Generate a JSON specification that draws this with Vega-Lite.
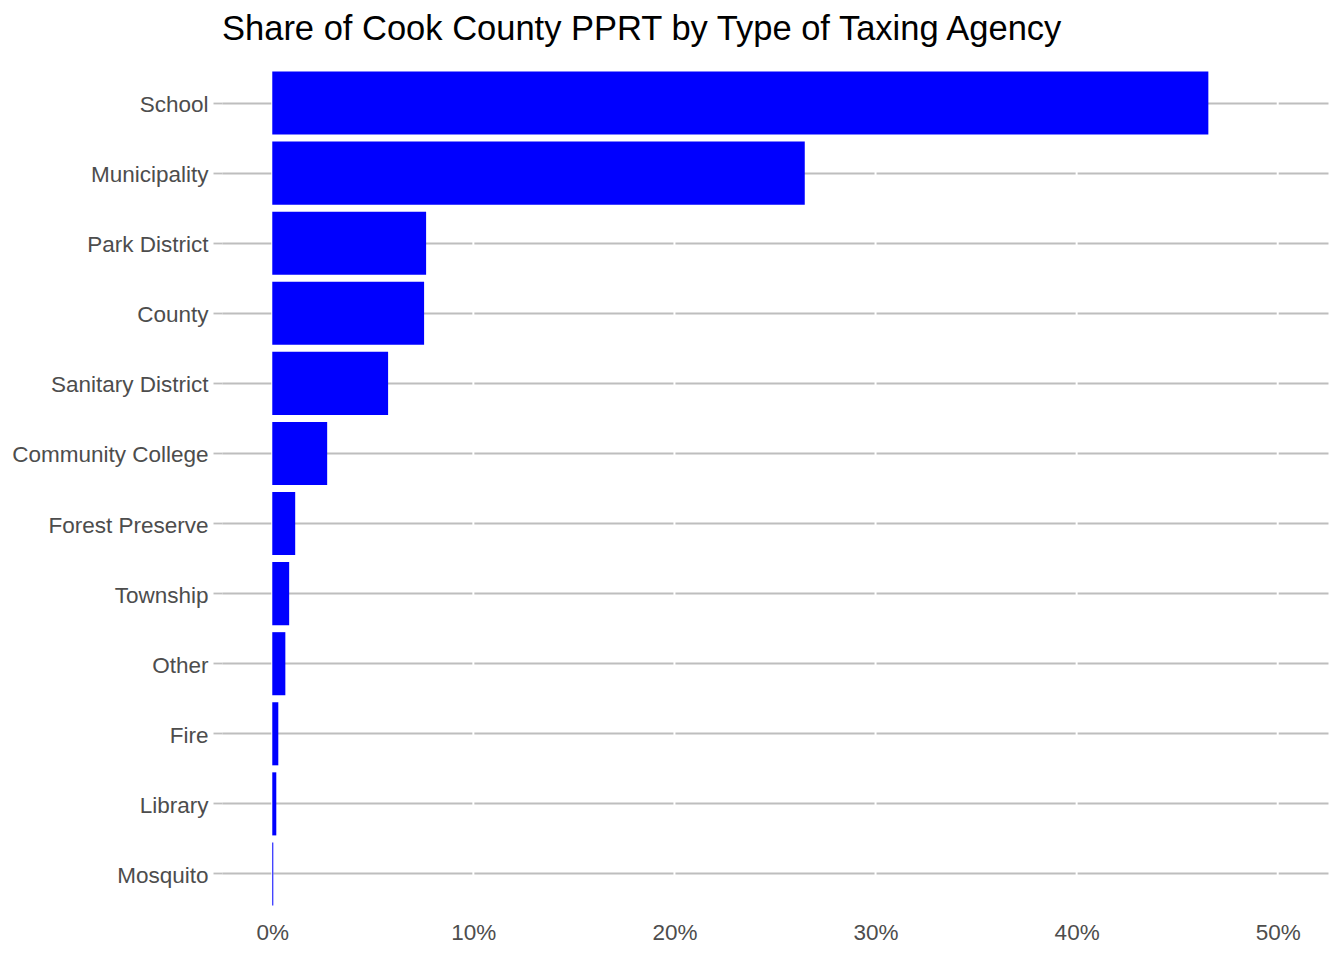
{
  "$schema": "https://vega.github.io/schema/vega-lite/v6.json",
  "autosize": {"type": "none"},
  "padding": {"left": 222, "top": 61, "right": 16, "bottom": 44},
  "width": 1106,
  "height": 855,
  "background": "white",
  "title": {
    "text": "Share of Cook County PPRT by Type of Taxing Agency",
    "anchor": "start",
    "frame": "group",
    "baseline": "alphabetic",
    "offset": -14,
    "font": "Liberation Sans",
    "fontSize": 34.5,
    "fontWeight": "normal",
    "color": "#000000"
  },
  "datasets": {
    "shares": [
      {"agency": "School", "share": 0.4655},
      {"agency": "Municipality", "share": 0.2648},
      {"agency": "Park District", "share": 0.0765},
      {"agency": "County", "share": 0.0755},
      {"agency": "Sanitary District", "share": 0.0576},
      {"agency": "Community College", "share": 0.0273},
      {"agency": "Forest Preserve", "share": 0.0114},
      {"agency": "Township", "share": 0.0084},
      {"agency": "Other", "share": 0.0065},
      {"agency": "Fire", "share": 0.003},
      {"agency": "Library", "share": 0.002},
      {"agency": "Mosquito", "share": 0.0005}
    ],
    "breaks": [
      {"pct": 0},
      {"pct": 0.1},
      {"pct": 0.2},
      {"pct": 0.3},
      {"pct": 0.4},
      {"pct": 0.5}
    ]
  },
  "config": {
    "view": {"stroke": null},
    "font": "Liberation Sans"
  },
  "layer": [
    {
      "data": {"name": "breaks"},
      "mark": {"type": "rule", "stroke": "white", "strokeWidth": 2},
      "encoding": {
        "x": {"field": "pct", "type": "quantitative"}
      }
    },
    {
      "data": {"name": "shares"},
      "mark": {"type": "bar", "color": "#0000FF"},
      "encoding": {
        "y": {
          "field": "agency",
          "type": "nominal",
          "sort": {"field": "share", "order": "descending"},
          "scale": {"paddingInner": 0.1, "paddingOuter": 0.15},
          "axis": {
            "title": null,
            "domain": false,
            "grid": true,
            "gridColor": "#bebebe",
            "gridWidth": 1.8,
            "ticks": true,
            "tickSize": 9,
            "tickColor": "#bebebe",
            "tickWidth": 1.8,
            "labelPadding": 5,
            "labelFontSize": 22.5,
            "labelColor": "#4d4d4d",
            "labelFont": "Liberation Sans",
            "labelLimit": 0,
            "labelOffset": 2,
            "zindex": 0
          }
        },
        "x": {
          "field": "share",
          "type": "quantitative",
          "scale": {"domain": [-0.025, 0.525], "nice": false, "zero": false},
          "axis": {
            "title": null,
            "domain": false,
            "grid": false,
            "ticks": false,
            "tickSize": 0,
            "values": [0, 0.1, 0.2, 0.3, 0.4, 0.5],
            "format": ".0%",
            "labelBaseline": "alphabetic",
            "labelPadding": 23,
            "labelFontSize": 22.5,
            "labelColor": "#4d4d4d",
            "labelFont": "Liberation Sans",
            "labelFlush": false
          }
        }
      }
    }
  ]
}
